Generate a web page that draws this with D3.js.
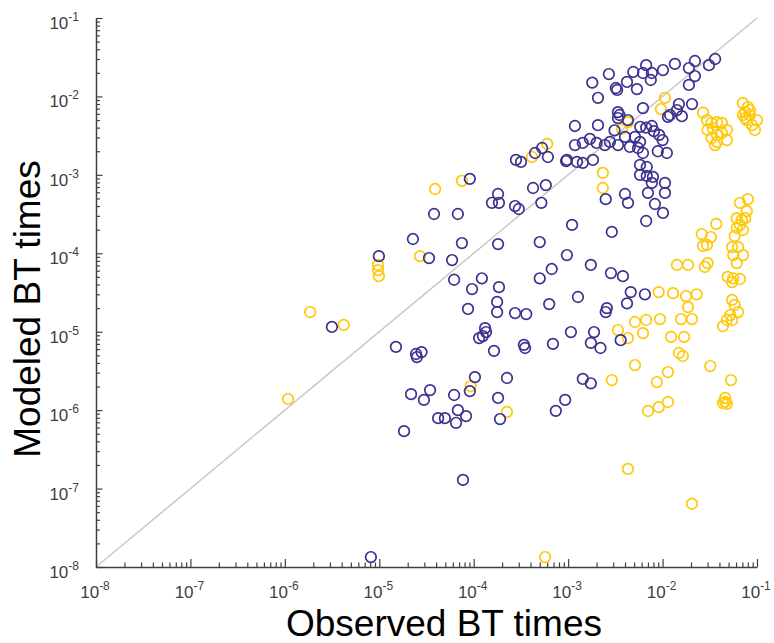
<!DOCTYPE html>
<html>
<head>
<meta charset="utf-8">
<script src="https://cdn.jsdelivr.net/npm/d3@7"></script>
<style>
  body { margin: 0; background: #fff; }
  svg { display: block; font-family: "Liberation Sans", Arial, sans-serif; }
</style>
</head>
<body>
<div id="chart"></div>
<script>
// observed vs modeled BT times, blue group
var blueObs = [1.8e-3, 2.7e-3, 2.07e-3, 3.2e-3, 3.3e-3, 4.2e-3, 4.9e-3, 5.35e-3, 6.2e-3, 6.7e-3,
  7.5e-3, 7.7e-3, 1.01e-2, 1.35e-2, 1.9e-2, 2.2e-2, 2.2e-2, 1.9e-2, 3.1e-2, 3.6e-2,
  6.2e-3, 2.05e-2, 1.49e-2, 1.42e-2, 1.6e-2, 1.14e-2, 1.2e-2, 1.18e-3, 2.07e-3, 3.37e-3,
  3.5e-3, 3.37e-3, 4.3e-3, 3.1e-3, 5.8e-3, 6.7e-3, 7.7e-3, 8.1e-3, 4.0e-3, 1.18e-3,
  1.43e-3, 1.7e-3, 2.0e-3, 2.45e-3, 2.77e-3, 3.37e-3, 5.1e-3, 5.77e-3, 4.5e-3, 5.5e-3,
  6.2e-3, 9.2e-3, 1.0e-2, 8.9e-3, 1.11e-2, 9.7e-4, 1.24e-3, 1.43e-3, 1.83e-3, 5.77e-3,
  6.8e-3, 5.77e-3, 6.8e-3, 7.9e-3, 7.7e-3, 1.06e-2, 1.06e-2, 4.0e-3, 4.3e-3, 2.5e-3,
  7.0e-3, 8.3e-3, 2.8e-4, 3.17e-4, 4.46e-4, 5.3e-4, 6.1e-4, 9.5e-4, 9.1e-5, 3.8e-5,
  6.8e-5, 1.81e-4, 1.56e-4, 1.85e-4, 2.74e-4, 3.0e-4, 4.25e-4, 5.8e-4, 5.2e-4, 2.27e-5,
  7.5e-5, 1.81e-4, 5.0e-4, 9.7e-4, 9.9e-6, 3.36e-5, 5.9e-5, 6.2e-5, 1.22e-4, 9.6e-5,
  1.85e-4, 5.0e-4, 6.7e-4, 1.77e-4, 1.77e-4, 8.7e-5, 2.74e-4, 3.6e-4, 6.3e-4, 1.32e-4,
  3.15e-6, 1.5e-5, 2.45e-5, 2.5e-5, 2.8e-5, 1.14e-4, 1.25e-4, 1.35e-4, 1.64e-4, 3.4e-4,
  3.5e-4, 6.9e-4, 1.03e-4, 9.1e-5, 2.25e-4, 2.17e-5, 3.45e-5, 2.97e-5, 6.2e-5, 6.8e-5,
  8.3e-5, 4.2e-5, 4.95e-5, 6.5e-5, 1.81e-4, 1.9e-4, 9.3e-4, 7.4e-4, 1.83e-5, 7.7e-5,
  8.15e-6, 1.1e-3, 2.9e-3, 6.7e-3, 1.01e-2, 1.74e-3, 2.84e-3, 3.8e-3, 4.6e-3, 6.5e-3,
  4.2e-3, 1.27e-3, 2.57e-3, 2.5e-3, 1.07e-3, 1.88e-3, 1.74e-3, 2.2e-3, 3.6e-3, 1.43e-3,
  1.74e-3];
var blueMod = [1.5e-2, 1.93e-2, 9.6e-3, 1.28e-2, 1.21e-2, 1.53e-2, 2.05e-2, 1.24e-2, 1.99e-2, 2.5e-2,
  1.62e-2, 1.99e-2, 2.17e-2, 2.6e-2, 2.3e-2, 2.83e-2, 1.82e-2, 1.4e-2, 2.5e-2, 3.0e-2,
  7.1e-3, 8.0e-3, 8.0e-3, 6.7e-3, 5.6e-3, 5.5e-3, 5.8e-3, 4.2e-3, 4.3e-3, 6.3e-3,
  5.8e-3, 5.3e-3, 5.0e-3, 3.7e-3, 4.1e-3, 4.0e-3, 4.2e-3, 3.6e-3, 3.05e-3, 2.4e-3,
  2.55e-3, 2.87e-3, 2.55e-3, 2.4e-3, 2.63e-3, 2.4e-3, 3.05e-3, 2.63e-3, 2.27e-3, 2.2e-3,
  1.9e-3, 3.23e-3, 2.78e-3, 2.0e-3, 1.9e-3, 1.55e-3, 1.46e-3, 1.42e-3, 1.55e-3, 1.34e-3,
  1.26e-3, 1.0e-3, 9.7e-4, 9.4e-4, 7.9e-4, 7.9e-4, 5.9e-4, 5.7e-4, 4.4e-4, 4.9e-4,
  5.9e-4, 4.25e-4, 1.55e-3, 1.46e-3, 1.9e-3, 2.2e-3, 1.69e-3, 1.5e-3, 8.9e-4, 3.17e-4,
  3.17e-4, 5.7e-4, 4.4e-4, 4.4e-4, 4.0e-4, 3.67e-4, 6.8e-4, 7.4e-4, 4.4e-4, 1.52e-4,
  1.35e-4, 1.31e-4, 1.39e-4, 9.5e-5, 9.2e-5, 8.7e-5, 8.2e-5, 4.6e-5, 4.8e-5, 3.5e-5,
  3.7e-5, 4.8e-5, 6.3e-5, 2.4e-5, 1.78e-5, 1.95e-5, 1.73e-5, 1.68e-5, 2.25e-5, 1.11e-5,
  1.15e-5, 6.4e-6, 5.2e-6, 4.75e-6, 5.5e-6, 8.3e-6, 8.8e-6, 9.9e-6, 5.7e-6, 6.8e-6,
  6.2e-6, 7.0e-6, 2.64e-6, 1.75e-6, 2.57e-6, 1.6e-6, 1.8e-6, 1.35e-6, 1.56e-6, 1.0e-6,
  8.4e-7, 7.9e-7, 7.9e-7, 6.9e-7, 1.43e-6, 7.7e-7, 1.35e-6, 9.8e-7, 5.4e-7, 1.29e-7,
  1.34e-8, 2.3e-4, 1.87e-4, 2.58e-4, 3.27e-4, 7.1e-5, 5.6e-5, 5.1e-5, 3.2e-5, 3.0e-5,
  2.3e-5, 2.77e-5, 2.0e-5, 1.78e-5, 9.9e-6, 9.9e-6, 7.2e-6, 6.2e-6, 7.8e-6, 2.5e-6,
  2.2e-6];

// yellow group
var yellowObs = [1.08e-6, 1.85e-6, 4.2e-6, 9.7e-6, 9.7e-6, 9.9e-6, 2.7e-5, 3.9e-5, 7.5e-5, 4.15e-4,
  6.0e-4, 9.3e-5, 2.25e-4, 5.7e-4, 1.06e-2, 9.6e-3, 4.3e-3, 3.7e-3, 2.33e-3, 2.33e-3,
  2.68e-2, 2.95e-2, 3.3e-2, 3.77e-2, 4.25e-2, 4.8e-2, 3.0e-2, 3.4e-2, 3.77e-2, 4.25e-2,
  3.3e-2, 3.77e-2, 4.8e-2, 3.6e-2, 7.1e-2, 8.0e-2, 7.5e-2, 8.4e-2, 9.99e-2, 7.8e-2,
  8.85e-2, 9.5e-2, 7.1e-2, 7.5e-2, 8.4e-2, 6.6e-2, 8.0e-2, 7.8e-2, 3.7e-2, 2.6e-2,
  3.25e-2, 2.68e-2, 2.95e-2, 1.42e-2, 1.86e-2, 2.8e-2, 3.0e-2, 9.1e-3, 1.29e-2, 1.77e-2,
  2.3e-2, 1.86e-2, 9.4e-3, 1.57e-2, 2.05e-2, 5.1e-3, 6.7e-3, 3.37e-3, 4.3e-3, 6.2e-3,
  1.23e-2, 1.69e-2, 1.49e-2, 1.64e-2, 5.1e-3, 1.14e-2, 8.7e-3, 2.9e-3, 3.2e-2, 5.3e-2,
  6.1e-2, 6.9e-2, 7.5e-2, 6.6e-2, 7.1e-2, 6.1e-2, 5.8e-2, 5.45e-2, 6.3e-2, 5.6e-2,
  7.1e-2, 6.1e-2, 4.9e-2, 5.6e-2, 6.6e-2, 5.45e-2, 5.45e-2, 5.8e-2, 6.3e-2, 5.2e-2,
  4.8e-2, 4.36e-2, 5.45e-2, 7.0e-3, 9.1e-3, 1.14e-2, 4.6e-2, 4.36e-2, 4.8e-2, 4.6e-2,
  4.3e-3, 2.05e-2];
var yellowMod = [1.39e-6, 1.78e-5, 1.22e-5, 7.1e-5, 6.1e-5, 5.1e-5, 9.2e-5, 6.6e-4, 8.4e-4, 1.69e-3,
  2.48e-3, 2.03e-6, 9.5e-7, 1.34e-8, 9.6e-3, 6.9e-3, 4.7e-3, 3.85e-3, 1.06e-3, 6.8e-4,
  6.2e-3, 5.0e-3, 4.6e-3, 4.7e-3, 4.6e-3, 3.74e-3, 3.74e-3, 3.96e-3, 3.23e-3, 3.4e-3,
  2.95e-3, 2.63e-3, 2.78e-3, 2.4e-3, 8.2e-3, 7.3e-3, 6.3e-3, 5.8e-3, 5.0e-3, 5.0e-3,
  4.3e-3, 3.74e-3, 5.8e-3, 5.3e-3, 6.7e-3, 4.4e-4, 4.9e-4, 3.45e-4, 2.37e-4, 1.76e-4,
  1.61e-4, 1.24e-4, 1.28e-4, 7.1e-5, 7.1e-5, 6.7e-5, 7.5e-5, 3.2e-5, 3.1e-5, 2.85e-5,
  3.0e-5, 2.06e-5, 1.45e-5, 1.45e-5, 1.45e-5, 1.33e-5, 1.41e-5, 1.05e-5, 8.3e-6, 9.6e-6,
  8.6e-6, 8.6e-6, 5.35e-6, 4.9e-6, 3.76e-6, 3.06e-6, 2.28e-6, 2.42e-6, 3.65e-6, 2.42e-6,
  2.8e-4, 2.66e-4, 2.8e-4, 2.3e-4, 1.98e-4, 2.1e-4, 1.66e-4, 1.2e-4, 1.2e-4, 9.5e-5,
  9.5e-5, 7.5e-5, 5.0e-5, 4.8e-5, 4.7e-5, 4.3e-5, 2.54e-5, 2.19e-5, 1.78e-5, 1.63e-5,
  1.41e-5, 1.18e-5, 1.41e-5, 9.75e-7, 1.09e-6, 1.27e-6, 1.43e-6, 1.23e-6, 1.2e-6, 1.27e-6,
  1.78e-7, 6.4e-8];

// decade tick labels (exponents)
var decades = [-8, -7, -6, -5, -4, -3, -2, -1];
var tickLabels = ["-8", "-7", "-6", "-5", "-4", "-3", "-2", "-1"];

(function(){
  "use strict";

  var width = 774, height = 643;
  var plotLeft = 96, plotRight = 757, plotTop = 18, plotBottom = 567;
  var blueColor = "#3b3190", yellowColor = "#ffc80a", axisColor = "#404040";

  var svg = d3.select("#chart").append("svg")
      .attr("width", width)
      .attr("height", height);

  var x = d3.scaleLog().domain([1e-8, 1e-1]).range([plotLeft, plotRight]);
  var y = d3.scaleLog().domain([1e-8, 1e-1]).range([plotBottom, plotTop]);

  // all ticks: majors plus 2..9 minors in every decade
  var allTicks = [];
  decades.slice(0, -1).forEach(function(e) {
    for (var m = 1; m < 10; m++) allTicks.push(m * Math.pow(10, e));
  });
  allTicks.push(1e-1);
  function isMajor(v) { return Math.abs(Math.log10(v) - Math.round(Math.log10(v))) < 1e-6; }

  // diagonal 1:1 line
  svg.append("line")
      .attr("x1", x(1e-8)).attr("y1", y(1e-8))
      .attr("x2", x(1e-1)).attr("y2", y(1e-1))
      .attr("stroke", "#c8c8c8")
      .attr("stroke-width", 1.5);

  // axes with ticks pointing inward
  var gx = svg.append("g")
      .attr("transform", "translate(0," + plotBottom + ")")
      .call(d3.axisBottom(x).tickValues(allTicks).tickSizeInner(-4.5).tickSizeOuter(0).tickFormat(""));
  gx.selectAll(".tick line").filter(function(d) { return isMajor(d); }).attr("y2", -8);

  var gy = svg.append("g")
      .attr("transform", "translate(" + plotLeft + ",0)")
      .call(d3.axisLeft(y).tickValues(allTicks).tickSizeInner(-4).tickSizeOuter(0).tickFormat(""));
  gy.selectAll(".tick line").filter(function(d) { return isMajor(d); }).attr("x2", 6.5);

  svg.selectAll(".domain").attr("stroke", axisColor).attr("stroke-width", 1.5);
  svg.selectAll(".tick line").attr("stroke", axisColor).attr("stroke-width", 1.2);

  // tick labels with superscript exponents
  var xl = svg.append("g").selectAll("text")
      .data(decades)
      .enter().append("text")
      .attr("x", function(d) { return x(Math.pow(10, d)) - 1; })
      .attr("y", 598)
      .attr("text-anchor", "middle")
      .attr("fill", axisColor)
      .style("font-size", "17px");
  xl.append("tspan").text("10");
  xl.append("tspan").attr("dy", -8).style("font-size", "12px")
      .text(function(d, i) { return tickLabels[i]; });

  var yl = svg.append("g").selectAll("text")
      .data(decades)
      .enter().append("text")
      .attr("x", 79)
      .attr("y", function(d) { return y(Math.pow(10, d)) + 11; })
      .attr("text-anchor", "end")
      .attr("fill", axisColor)
      .style("font-size", "17px");
  yl.append("tspan").text("10");
  yl.append("tspan").attr("dy", -8).style("font-size", "12px")
      .text(function(d, i) { return tickLabels[i]; });

  // scatter points, open circles
  function drawGroup(obs, mod, color) {
    svg.append("g").selectAll("circle")
        .data(d3.zip(obs, mod))
        .enter().append("circle")
        .attr("cx", function(d) { return x(d[0]); })
        .attr("cy", function(d) { return y(d[1]); })
        .attr("r", 5.3)
        .attr("fill", "none")
        .attr("stroke", color)
        .attr("stroke-width", 1.7);
  }
  drawGroup(yellowObs, yellowMod, yellowColor);
  drawGroup(blueObs, blueMod, blueColor);

  // axis titles
  svg.append("text")
      .attr("x", 444).attr("y", 636)
      .attr("text-anchor", "middle")
      .style("font-size", "37px")
      .text("Observed BT times");

  svg.append("text")
      .attr("transform", "translate(40,309) rotate(-90)")
      .attr("text-anchor", "middle")
      .style("font-size", "37px")
      .text("Modeled BT times");
})();
</script>
</body>
</html>
